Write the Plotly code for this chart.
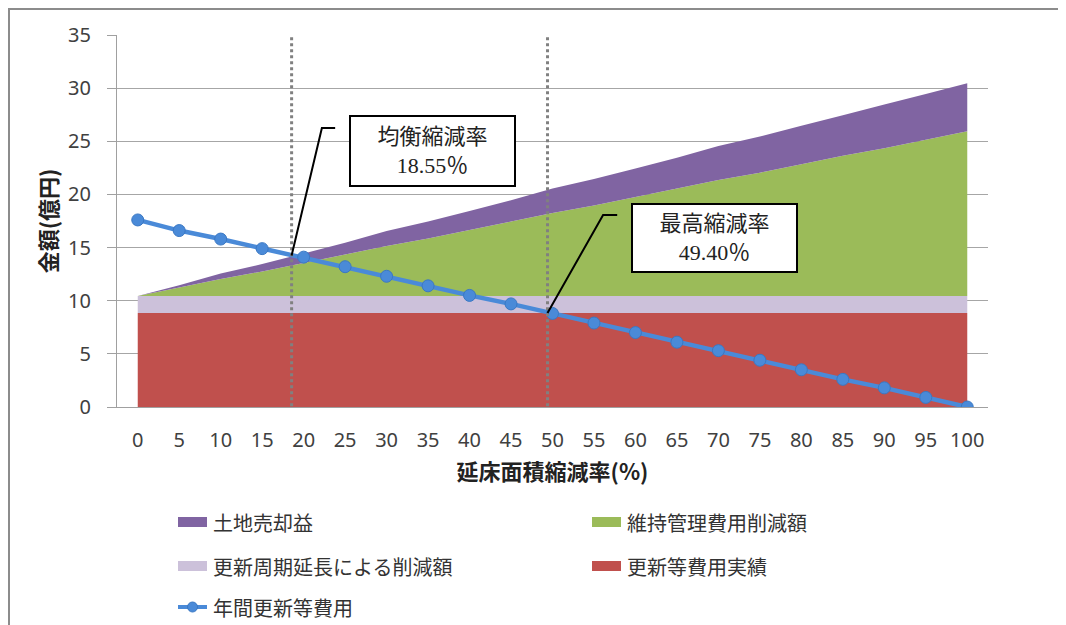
import plotly.graph_objects as go

# ---- data ----
x_pct = [0, 5, 10, 15, 20, 25, 30, 35, 40, 45, 50, 55, 60, 65, 70, 75, 80, 85, 90, 95, 100]
actual_cost = [8.85] * 21                      # 更新等費用実績
cycle_ext = [1.6] * 21                         # 更新周期延長による削減額
maint_cut = [0.0, 0.8, 1.6, 2.3, 3.1, 3.9, 4.7, 5.4, 6.2, 7.0, 7.8,
             8.5, 9.3, 10.1, 10.9, 11.6, 12.4, 13.2, 13.9, 14.7, 15.5]   # 維持管理費用削減額
land_sale = [0.0, 0.2, 0.5, 0.7, 0.9, 1.1, 1.4, 1.6, 1.8, 2.0, 2.3,
             2.5, 2.7, 2.9, 3.2, 3.4, 3.6, 3.8, 4.1, 4.3, 4.5]           # 土地売却益
annual_cost = [17.6, 16.6, 15.8, 14.9, 14.1, 13.2, 12.3, 11.4, 10.5, 9.7, 8.8,
               7.9, 7.0, 6.1, 5.3, 4.4, 3.5, 2.6, 1.8, 0.9, 0.0]         # 年間更新等費用
tick_labels = [str(v) for v in x_pct]
legend_names = ["土地売却益", "維持管理費用削減額", "更新周期延長による削減額", "更新等費用実績", "年間更新等費用"]
balance_rate = 18.55
balance_val = 14.25
max_rate = 49.40
max_val = 8.85

C_RED = "#C0504D"
C_LAV = "#CCC1DA"
C_GRN = "#9BBB59"
C_PUR = "#8064A2"
C_BLU = "#4A8AD8"

CJK = "Noto Sans CJK JP"

# page offset (body margin) and plot area in screenshot pixels
OFF = 8
W, H = 1066 - OFF, 625 - OFF
L, R, T, B = 117, 988, 35, 407
def px(x):
    return (x - L) / (R - L)
def py(y):
    return (B - y) / (B - T)

fig = go.Figure()
fig.add_trace(go.Scatter(x=x_pct, y=actual_cost, name=legend_names[3], stackgroup="s",
                         mode="none", fillcolor=C_RED))
fig.add_trace(go.Scatter(x=x_pct, y=cycle_ext, name=legend_names[2], stackgroup="s",
                         mode="none", fillcolor=C_LAV))
fig.add_trace(go.Scatter(x=x_pct, y=maint_cut, name=legend_names[1], stackgroup="s",
                         mode="none", fillcolor=C_GRN))
fig.add_trace(go.Scatter(x=x_pct, y=land_sale, name=legend_names[0], stackgroup="s",
                         mode="none", fillcolor=C_PUR))
fig.add_trace(go.Scatter(x=x_pct, y=annual_cost, name=legend_names[4], mode="lines+markers",
                         line=dict(color=C_BLU, width=4.5),
                         marker=dict(color=C_BLU, size=12, line=dict(color="#3A78C4", width=1))))

# dotted reference lines
for xv in (balance_rate, max_rate):
    fig.add_shape(type="line", x0=xv, x1=xv, y0=-0.5, y1=35.3, xref="x", yref="y",
                  line=dict(color="#808080", width=3, dash="dot"), layer="above")

# leader lines
fig.add_shape(type="path", xref="x", yref="y",
              path=f"M 23.8 26.25 L 22.2 26.25 L {balance_rate} {balance_val}",
              line=dict(color="black", width=2))
fig.add_shape(type="path", xref="x", yref="y",
              path=f"M 57.8 18.06 L 56.1 18.06 L {max_rate} {max_val}",
              line=dict(color="black", width=2))

box_font = dict(family="Liberation Serif, " + CJK, size=22, color="#222222")
fig.add_annotation(x=35.5, y=24.08, xref="x", yref="y", showarrow=False,
                   text=f"均衡縮減率<br>{balance_rate:.2f}％", font=box_font,
                   bgcolor="white", bordercolor="black", borderwidth=2, borderpad=0,
                   width=163, height=68, align="center")
fig.add_annotation(x=69.5, y=15.9, xref="x", yref="y", showarrow=False,
                   text=f"最高縮減率<br>{max_rate:.2f}％", font=box_font,
                   bgcolor="white", bordercolor="black", borderwidth=2, borderpad=0,
                   width=163, height=66, align="center")

# outer frame
fig.add_shape(type="rect", xref="paper", yref="paper",
              x0=px(9), x1=px(1061), y0=py(680), y1=py(9),
              line=dict(color="#8C8C8C", width=2), layer="below")

# manual legend
leg_font = dict(family=CJK, size=20, color="#333333")
leg_items = [
    (legend_names[0], C_PUR, 178, 522),
    (legend_names[1], C_GRN, 592, 522),
    (legend_names[2], C_LAV, 178, 566),
    (legend_names[3], C_RED, 592, 566),
]
for name, col, x0, yc in leg_items:
    fig.add_shape(type="rect", xref="paper", yref="paper",
                  x0=px(x0), x1=px(x0 + 29), y0=py(yc + 5), y1=py(yc - 5),
                  fillcolor=col, line=dict(width=0))
    fig.add_annotation(xref="paper", yref="paper", x=px(x0 + 33), y=py(yc),
                       xanchor="left", yanchor="middle", showarrow=False,
                       text=name, font=leg_font)
# line legend entry
fig.add_shape(type="line", xref="paper", yref="paper",
              x0=px(178), x1=px(207), y0=py(607), y1=py(607),
              line=dict(color=C_BLU, width=4))
fig.add_shape(type="circle", xref="paper", yref="paper",
              x0=px(187.5), x1=px(197.5), y0=py(612), y1=py(602),
              fillcolor=C_BLU, line=dict(color="#3A78C4", width=1))
fig.add_annotation(xref="paper", yref="paper", x=px(211), y=py(607),
                   xanchor="left", yanchor="middle", showarrow=False,
                   text=legend_names[4], font=leg_font)

fig.update_layout(
    width=W, height=H,
    margin=dict(l=L - OFF, r=W - (R - OFF), t=T - OFF, b=H - (B - OFF), autoexpand=False),
    plot_bgcolor="white", paper_bgcolor="white",
    font=dict(family="Noto Sans, " + CJK, color="#404040"),
    showlegend=False,
)
fig.update_xaxes(range=[-2.5, 102.5], tickmode="array", tickvals=x_pct, ticktext=tick_labels,
                 showgrid=False, zeroline=False, showline=True, linecolor="#A0A0A0", linewidth=1,
                 ticks="", tickfont=dict(size=20, color="#404040"), ticklabelstandoff=15,
                 title=dict(text="<b>延床面積縮減率(%)</b>",
                            font=dict(family=CJK, size=22, color="#222222"), standoff=12))
fig.update_yaxes(range=[0, 35], tickvals=[0, 5, 10, 15, 20, 25, 30, 35],
                 showgrid=True, gridcolor="#A6A6A6", gridwidth=1, zeroline=False,
                 showline=True, linecolor="#A0A0A0", linewidth=1,
                 ticks="outside", ticklen=9, tickcolor="#A0A0A0",
                 tickfont=dict(size=20, color="#404040"), ticklabelstandoff=12,
                 title=dict(text="<b>金額(億円)</b>",
                            font=dict(family=CJK, size=22, color="#222222"), standoff=4))

fig.write_html("out.html")
